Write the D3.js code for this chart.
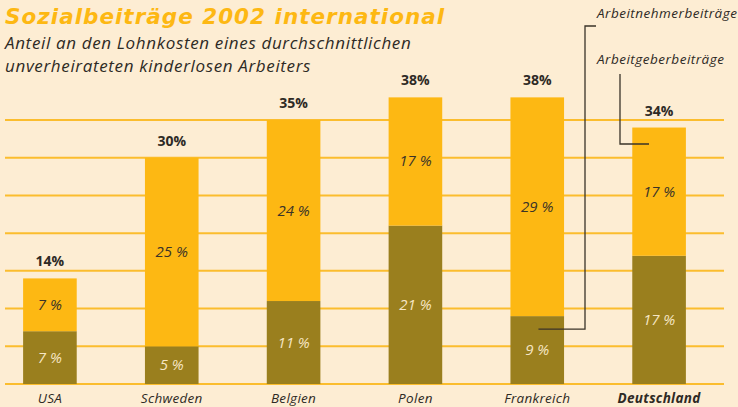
<!DOCTYPE html>
<html>
<head>
<meta charset="utf-8">
<script src="https://cdn.jsdelivr.net/npm/d3@7"></script>
<style>
  html, body { margin: 0; padding: 0; background: #fdedd3; }
  svg { display: block; }
</style>
</head>
<body>
<script>
// chart data
const countries = ['USA', 'Schweden', 'Belgien', 'Polen', 'Frankreich', 'Deutschland'];
const employer = [7, 5, 11, 21, 9, 17];     // Arbeitgeberbeiträge (dark, bottom)
const employee = [7, 25, 24, 17, 29, 17];   // Arbeitnehmerbeiträge (light, top)
const totals = [14, 30, 35, 38, 38, 34];
const gridTicks = [0, 5, 10, 15, 20, 25, 30, 35];

const width = 738, height = 407;
const svg = d3.select('body').append('svg')
    .attr('width', width)
    .attr('height', height);

svg.append('rect').attr('width', width).attr('height', height).attr('fill', '#fdedd3');

const x = d3.scaleBand()
    .domain(countries)
    .range([-11, 720])
    .paddingInner(0.56)
    .paddingOuter(0.28);

const y = d3.scaleLinear()
    .domain([0, 35])
    .range([384, 120]);

// grid lines
svg.append('g')
    .selectAll('line')
    .data(gridTicks)
    .join('line')
    .attr('x1', 5)
    .attr('x2', 724)
    .attr('y1', d => y(d))
    .attr('y2', d => y(d))
    .attr('stroke', '#fbbd2e')
    .attr('stroke-width', 2);

const rows = countries.map((c, i) => ({ c, lo: employer[i], hi: employee[i], tot: totals[i] }));

const bars = svg.append('g').selectAll('g').data(rows).join('g');

// lower (dark) segments
bars.append('rect')
    .attr('x', d => x(d.c))
    .attr('width', x.bandwidth())
    .attr('y', d => y(d.lo))
    .attr('height', d => y(0) - y(d.lo))
    .attr('fill', '#9a7f1e');

// upper (light) segments
bars.append('rect')
    .attr('x', d => x(d.c))
    .attr('width', x.bandwidth())
    .attr('y', d => y(d.lo + d.hi))
    .attr('height', d => y(d.lo) - y(d.lo + d.hi))
    .attr('fill', '#fdb813');

const font = '"Open Sans", sans-serif';

// segment labels
bars.append('text')
    .attr('x', d => x(d.c) + x.bandwidth() / 2)
    .attr('y', d => (y(0) + y(d.lo)) / 2 + 5)
    .attr('text-anchor', 'middle')
    .attr('font-family', font)
    .attr('font-style', 'italic')
    .attr('font-size', 15)
    .attr('fill', '#f6e6c4')
    .text(d => d.lo + ' %');

bars.append('text')
    .attr('x', d => x(d.c) + x.bandwidth() / 2)
    .attr('y', d => (y(d.lo) + y(d.lo + d.hi)) / 2 + 5)
    .attr('text-anchor', 'middle')
    .attr('font-family', font)
    .attr('font-style', 'italic')
    .attr('font-size', 15)
    .attr('fill', '#3a3328')
    .text(d => d.hi + ' %');

// totals
bars.append('text')
    .attr('x', d => x(d.c) + x.bandwidth() / 2)
    .attr('y', d => y(d.tot) - 12)
    .attr('text-anchor', 'middle')
    .attr('font-family', font)
    .attr('font-weight', 'bold')
    .attr('font-size', 14)
    .attr('fill', '#2e2a25')
    .text(d => d.tot + '%');

// category labels
bars.append('text')
    .attr('x', d => x(d.c) + x.bandwidth() / 2)
    .attr('y', 403)
    .attr('text-anchor', 'middle')
    .attr('font-family', font)
    .attr('font-style', 'italic')
    .attr('font-weight', d => d.c === 'Deutschland' ? 'bold' : 'normal')
    .attr('font-size', 13.5)
    .attr('letter-spacing', 0.3)
    .attr('fill', '#2e2a25')
    .text(d => d.c);

// title
svg.append('text')
    .attr('x', 5)
    .attr('y', 24)
    .attr('font-family', '"DejaVu Sans", sans-serif')
    .attr('font-weight', 'bold')
    .attr('font-style', 'italic')
    .attr('font-size', 21.5)
    .attr('letter-spacing', 1)
    .attr('fill', '#fdb813')
    .text('Sozialbeiträge 2002 international');

const sub = ['Anteil an den Lohnkosten eines durchschnittlichen', 'unverheirateten kinderlosen Arbeiters'];
svg.append('g').selectAll('text').data(sub).join('text')
    .attr('x', 5)
    .attr('y', (d, i) => 49 + i * 23)
    .attr('font-family', font)
    .attr('font-style', 'italic')
    .attr('font-size', 17)
    .attr('letter-spacing', 0.65)
    .attr('fill', '#2e2a25')
    .text(d => d);

// legend with leader lines
const fr = rows[4];
const legend = [
    { label: 'Arbeitnehmerbeiträge', y: 18 },
    { label: 'Arbeitgeberbeiträge', y: 64 }
];
svg.append('g').selectAll('text').data(legend).join('text')
    .attr('x', 597)
    .attr('y', d => d.y)
    .attr('font-family', font)
    .attr('font-style', 'italic')
    .attr('font-size', 13.5)
    .attr('letter-spacing', 0.5)
    .attr('fill', '#2e2a25')
    .text(d => d.label);

const leaderA = [[596, 26], [585, 26], [585, y(fr.lo) + 13], [x(fr.c) + 28, y(fr.lo) + 13]];
const leaderB = [[620, 74], [620, 144], [649, 144]];
svg.selectAll('path.leader')
    .data([leaderA, leaderB])
    .join('path')
    .attr('class', 'leader')
    .attr('d', d3.line())
    .attr('fill', 'none')
    .attr('stroke', '#3a3328')
    .attr('stroke-width', 1.3);
</script>
</body>
</html>
